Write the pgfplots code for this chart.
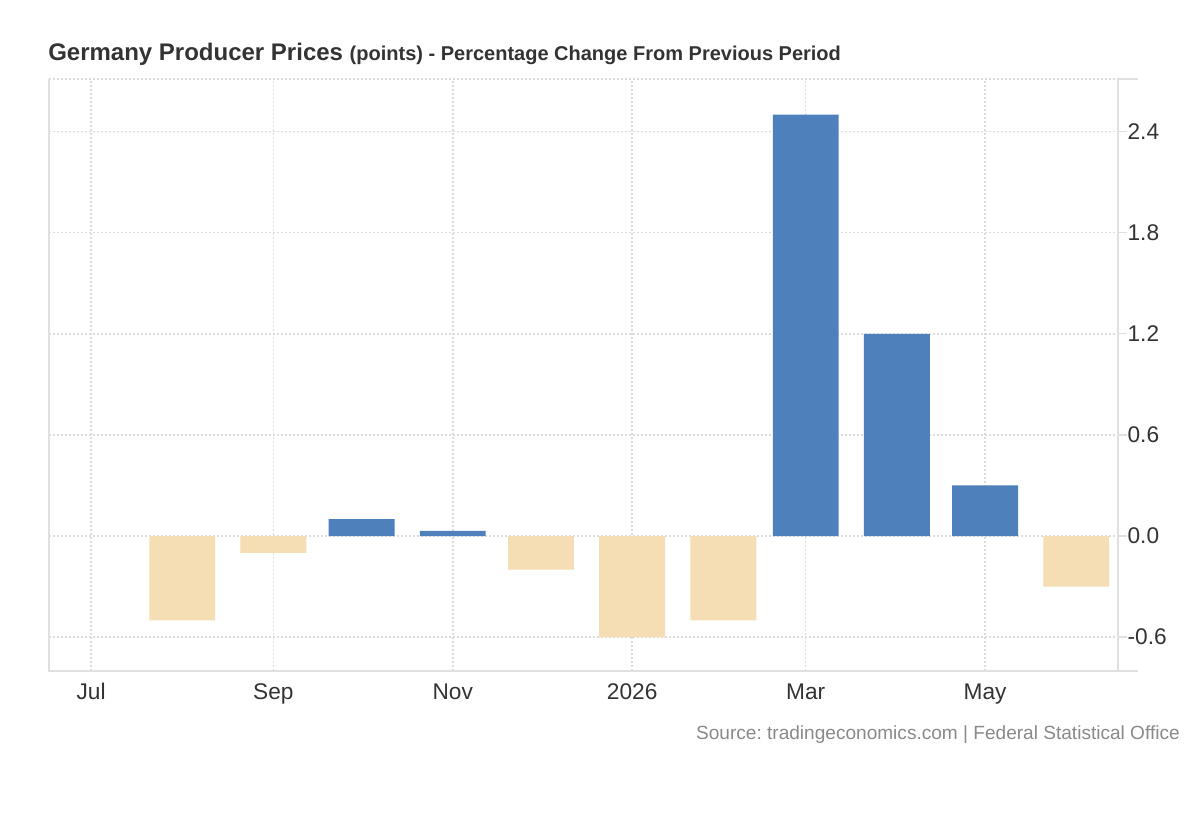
\documentclass[border=0pt]{standalone}
\usepackage{pgfplots}
\pgfplotsset{compat=1.18}
\usepackage{fontspec}
\setmainfont{Liberation Sans}
\frenchspacing
\definecolor{txt}{HTML}{333333}
\definecolor{srcgray}{HTML}{8A8A8A}
\definecolor{gridc}{HTML}{DCDCDC}
\definecolor{axc}{HTML}{E0E0E0}
\definecolor{barblue}{HTML}{4E80BC}
\definecolor{bartan}{HTML}{F5DEB3}
% x = days since 1 Jul 2025, bars centred on the first of each month
\pgfplotstableread{
x y
92 0.1
123 0.03
243 2.5
274 1.2
304 0.3
}\posdata
\pgfplotstableread{
x y
31 -0.5
62 -0.1
153 -0.2
184 -0.6
215 -0.5
335 -0.3
}\negonly
\begin{document}
\begin{tikzpicture}
\path[fill=white] (0pt,0pt) rectangle (900pt,-615pt);
\node[anchor=base west, inner sep=0pt, text=txt] at (36pt,-45.5pt)
  {\fontsize{18pt}{20pt}\selectfont\bfseries Germany Producer Prices \fontsize{15pt}{17pt}\selectfont(points) - Percentage Change From Previous Period};
\node[anchor=base east, inner sep=0pt, text=srcgray] at (885pt,-554.25pt)
  {\fontsize{14.3pt}{16pt}\selectfont Source: tradingeconomics.com | Federal Statistical Office};
\begin{axis}[
  at={(36.75pt,-59.25pt)}, anchor=north west,
  scale only axis, width=801.75pt, height=444pt,
  xmin=-14.3, xmax=349.2, ymin=-0.801, ymax=2.712,
  axis line style={draw=none},
  xtick={0,62,123,184,243,304},
  xticklabels={Jul,Sep,Nov,2026,Mar,May},
  ytick={-0.6,0,0.6,1.2,1.8,2.4},
  yticklabels={-0.6,0.0,0.6,1.2,1.8,2.4},
  yticklabel pos=right, ytick pos=right,
  xmajorgrids, ymajorgrids,
  grid style={gridc, line width=1.1pt, dash pattern=on 1.5pt off 1.5pt},
  xtick style={draw=none},
  ytick style={draw=axc, line width=1pt},
  tick align=outside, major tick length=7pt,
  xticklabel style={anchor=base, yshift=-14.5pt, text=txt, font=\fontsize{17pt}{19pt}\selectfont},
  yticklabel style={anchor=west, text=txt, font=\fontsize{17pt}{19pt}\selectfont, inner sep=0pt, xshift=0pt},
  ybar, bar width=22.4, bar shift=0pt,
  clip=false,
]
\addplot[fill=bartan, draw=none] table[x=x,y=y] {\negonly};
\addplot[fill=barblue, draw=none] table[x=x,y=y] {\posdata};
\draw[gridc, line width=1.1pt, dash pattern=on 1.5pt off 1.5pt] (rel axis cs:0,1) -- (rel axis cs:1,1);
\draw[axc, line width=1.5pt] (rel axis cs:0,1) -- (rel axis cs:0,0) -- (rel axis cs:1,0) -- ([xshift=15pt]rel axis cs:1,0);
\draw[axc, line width=1.5pt] (rel axis cs:1,0) -- (rel axis cs:1,1) -- ([xshift=15pt]rel axis cs:1,1);
\end{axis}
\end{tikzpicture}
\end{document}
